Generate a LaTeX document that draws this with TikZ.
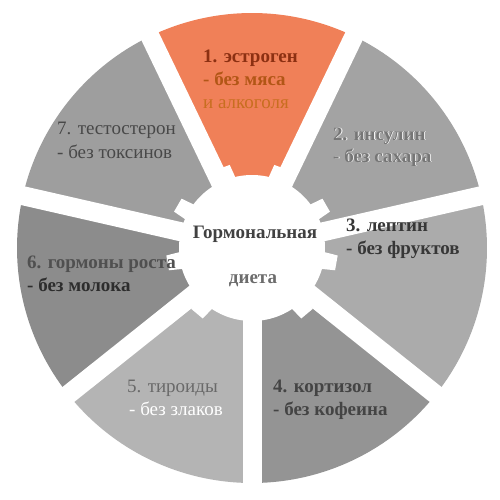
\documentclass[tikz,border=0pt]{standalone}
\usepackage{fontspec}
\setmainfont{Liberation Serif}
\definecolor{s1}{RGB}{240,128,88}
\definecolor{s2}{RGB}{163,163,163}
\definecolor{s3}{RGB}{171,171,171}
\definecolor{s4}{RGB}{148,148,148}
\definecolor{s5}{RGB}{180,180,180}
\definecolor{s6}{RGB}{140,140,140}
\definecolor{s7}{RGB}{158,158,158}
\definecolor{t1a}{RGB}{140,48,18}
\definecolor{t1b}{RGB}{178,86,22}
\definecolor{t1c}{RGB}{200,110,32}
\definecolor{t2}{RGB}{118,118,118}
\definecolor{t3}{RGB}{55,55,55}
\definecolor{t4}{RGB}{68,68,68}
\definecolor{t5}{RGB}{105,105,105}
\definecolor{t6a}{RGB}{80,80,80}
\definecolor{t6b}{RGB}{45,45,45}
\definecolor{t7}{RGB}{72,72,72}
\definecolor{tc}{RGB}{65,65,65}
\definecolor{td}{RGB}{108,108,108}
\tikzset{
  lblb/.style={font=\fontsize{19}{23}\selectfont\bfseries, inner sep=0pt, anchor=base west},
  lbln/.style={font=\fontsize{19}{23}\selectfont, inner sep=0pt, anchor=base west},
  gapline/.style={white, line width=19pt},
}
\begin{document}
\begin{tikzpicture}[x=1pt,y=1pt]
\useasboundingbox (0,0) rectangle (500,499);
\fill[white] (0,0) rectangle (500,499);
\begin{scope}[shift={(252,251)}]
  \foreach \k/\col in {0/s1,1/s2,2/s3,3/s4,4/s5,5/s6,6/s7} {
    \pgfmathsetmacro\sa{90-\k*51.42857-25.71429}
    \pgfmathsetmacro\ea{90-\k*51.42857+25.71429}
    \fill[\col] (\sa:235) arc[start angle=\sa, end angle=\ea, radius=235]
      -- (\ea:70) arc[start angle=\ea, end angle=\sa, radius=70] -- cycle;
  }
  \foreach \k in {0,...,6} {
    \pgfmathsetmacro\ga{64.28571-\k*51.42857}
    \draw[gapline] (0,0) -- (\ga:245);
  }
  \fill[white] (0,0) circle (73);
  \foreach \t in {0,...,8} {
    \pgfmathsetmacro\b{30+\t*40}
    \fill[white] ({\b-7.5}:68) -- ({\b-5}:86) -- ({\b+5}:86) -- ({\b+7.5}:68) -- cycle;
  }
\end{scope}
% sector 1
\node[lblb, text=t1a] (a1) at (203,436) {1. эстроген};
\node[lblb, text=t1b] (b1) at (203,413) {- без мяса};
\node[lbln, text=t1c] (c1) at (203,390) {и алкоголя};
% sector 2
\node[lblb, text=white] (a2s) at (333.8,358.2) {2. инсулин};
\node[lblb, text=t2] (a2) at (333,359) {2. инсулин};
\node[lblb, text=white] (b2s) at (333.8,336.2) {- без сахара};
\node[lblb, text=t2] (b2) at (333,337) {- без сахара};
% sector 3
\node[lblb, text=t3] (a3) at (346,268) {3. лептин};
\node[lblb, text=t3] (b3) at (346,245) {- без фруктов};
% sector 4
\node[lblb, text=t4] (a4) at (273,107) {4. кортизол};
\node[lblb, text=t4] (b4) at (273,84) {- без кофеина};
% sector 5
\node[lbln, text=t5] (a5) at (127,107) {5. тироиды};
\node[lbln, text=white] (b5) at (129,84) {- без злаков};
% sector 6
\node[lblb, text=t6a] (a6) at (27,231) {6. гормоны роста};
\node[lblb, text=t6b] (b6) at (27,208) {- без молока};
% sector 7
\node[lbln, text=t7] (a7) at (57,364) {7. тестостерон};
\node[lbln, text=t7] (b7) at (57,341) {- без токсинов};
% centre
\node[font=\fontsize{19}{23}\selectfont\bfseries, inner sep=0pt, anchor=base, text=tc] (ca) at (255,261) {Гормональная};
\node[font=\fontsize{19}{23}\selectfont\bfseries, inner sep=0pt, anchor=base, text=td] (cb) at (253,216) {диета};
\end{tikzpicture}
\end{document}
